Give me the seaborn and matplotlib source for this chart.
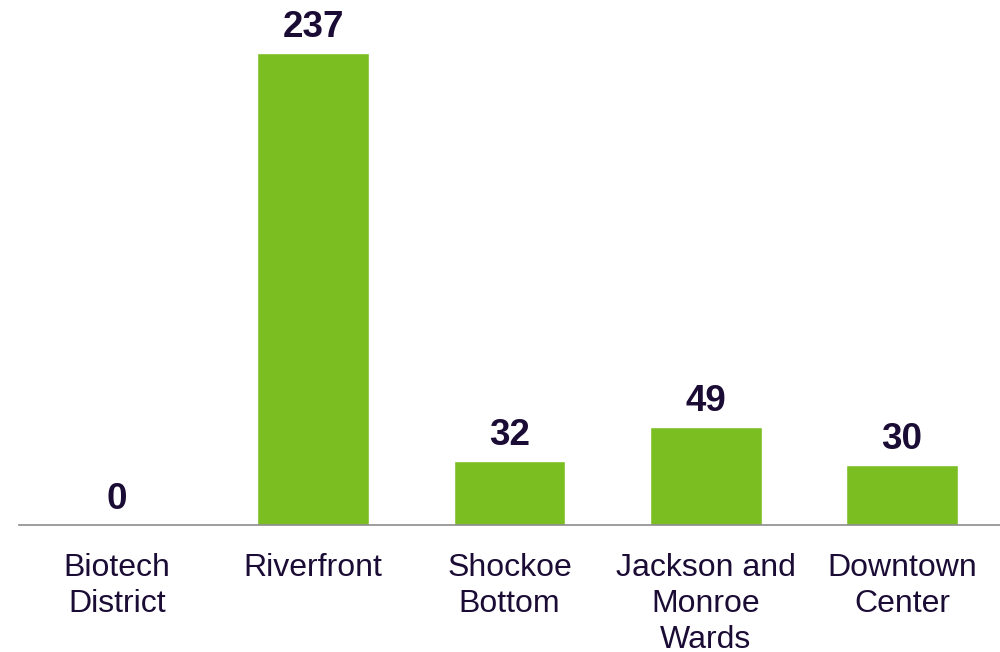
import matplotlib
matplotlib.use("Agg")
import matplotlib.pyplot as plt
import seaborn as sns
import pandas as pd

categories = ["Biotech\nDistrict", "Riverfront", "Shockoe\nBottom", "Jackson and\nMonroe\nWards", "Downtown\nCenter"]
values = [0, 237, 32, 49, 30]

df = pd.DataFrame({"area": categories, "count": values})

sns.set_style("white")
plt.rcParams['font.family'] = ['Liberation Sans', 'DejaVu Sans']
text_col = "#1b0c35"

fig = plt.figure(figsize=(10, 6.52), dpi=100)
ax = fig.add_axes([0.019, 0.1948, 0.981, 0.8052])
sns.barplot(data=df, x="area", y="count", color="#7bbe22", width=0.57, saturation=1, ax=ax)

ax.set_xlim(-0.5, 4.5)
ax.set_ylim(0, 263.6)
for i, v in enumerate(values):
    ax.annotate(str(v), (i, v), xytext=(0, 6), textcoords="offset points",
                ha="center", va="bottom", fontsize=26.5, fontweight="bold", color=text_col)

ax.set_xlabel("")
ax.set_ylabel("")
ax.set_yticks([])
ax.tick_params(axis="x", length=0, pad=20, labelsize=23, labelcolor=text_col)
for lbl in ax.get_xticklabels():
    lbl.set_linespacing(1.26)
for s in ["top", "right", "left"]:
    ax.spines[s].set_visible(False)
ax.spines["bottom"].set_color("#8c8c8c")
ax.spines["bottom"].set_linewidth(1.2)

fig.savefig("out.png", dpi=100)
